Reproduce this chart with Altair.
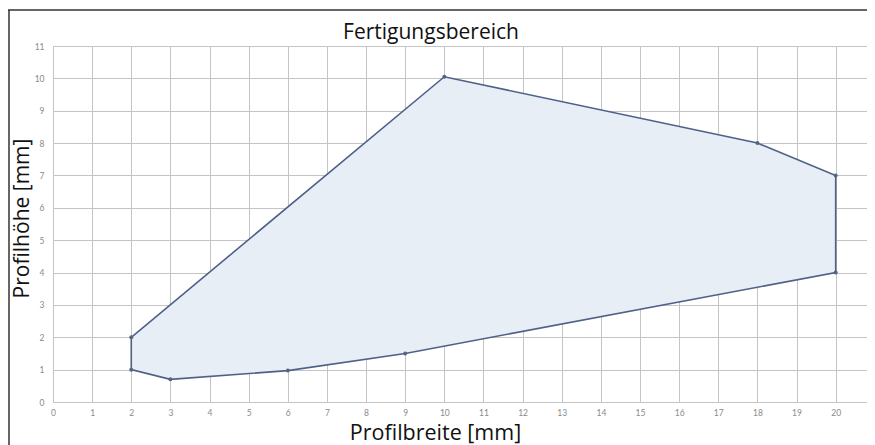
import altair as alt
import pandas as pd

# Polygon vertices (closed) of the manufacturing range
breite = [2, 10, 18, 20, 20, 9, 6, 3, 2, 2]
hoehe = [2, 10.05, 8.0, 7.0, 4.0, 1.5, 0.97, 0.7, 1.0, 2]

x_ticks = list(range(0, 22))
y_ticks = list(range(0, 12))

df = pd.DataFrame({"b": breite, "h": hoehe, "i": list(range(len(breite)))})

FONT = "Lato"
TFONT = "Open Sans"
W, H = 814, 356

xs = alt.X("b:Q", scale=alt.Scale(domain=[0, 20.8], nice=False),
           axis=alt.Axis(values=x_ticks, title="Profilbreite [mm]", grid=True,
                         ticks=False, domain=False, labelPadding=6,
                         labelFontSize=8.5, labelColor="#8a8a8a", labelFont=FONT,
                         gridColor="#c4c4c4", gridWidth=1,
                         titleFont=TFONT, titleFontSize=21.5, titleFontWeight="normal",
                         titleColor="#111", titleX=382, titleY=37,
                         titleAlign="center", titleBaseline="alphabetic",
                         labelOverlap=False, labelFlush=False))
ys = alt.Y("h:Q", scale=alt.Scale(domain=[0, 11], nice=False),
           axis=alt.Axis(values=y_ticks, title="Profilhöhe [mm]", grid=True,
                         ticks=False, domain=False, labelPadding=9,
                         labelFontSize=8.5, labelColor="#8a8a8a", labelFont=FONT,
                         gridColor="#c4c4c4", gridWidth=1,
                         titleFont=TFONT, titleFontSize=21, titleFontWeight="normal",
                         titleColor="#111", titleX=-31, titleY=172, titleAngle=-90,
                         titleAlign="center", titleBaseline="middle",
                         labelOverlap=False))

base = alt.Chart(df).encode(x=xs, y=ys)

poly = base.mark_line(fill="#e8eef6", stroke="#4f6189", strokeWidth=1.6).encode(order="i:Q")

dots = base.transform_filter("datum.i < 9").mark_circle(size=16, color="#56657f", opacity=1)

frame_top = alt.Chart(pd.DataFrame({"a": [0]})).mark_rule(color="#333", strokeWidth=1.5).encode(
    x=alt.value(-45), x2=alt.value(W), y=alt.value(-36))
frame_left = alt.Chart(pd.DataFrame({"a": [0]})).mark_rule(color="#333", strokeWidth=1.5).encode(
    x=alt.value(-44), y=alt.value(-36), y2=alt.value(H + 43))

chart = alt.layer(poly, dots, frame_top, frame_left).properties(
    width=W, height=H,
    title=alt.TitleParams("Fertigungsbereich", font=TFONT, fontSize=21, fontWeight="normal",
                          color="#111", anchor="middle", dx=-29, dy=40, offset=6),
    autosize=alt.AutoSizeParams(type="none"),
    padding={"left": 45, "top": 38, "right": 0, "bottom": 43},
).configure_view(stroke=None).configure(background="white")

chart.save("out.html", embed_options={"renderer": "svg", "actions": False})
